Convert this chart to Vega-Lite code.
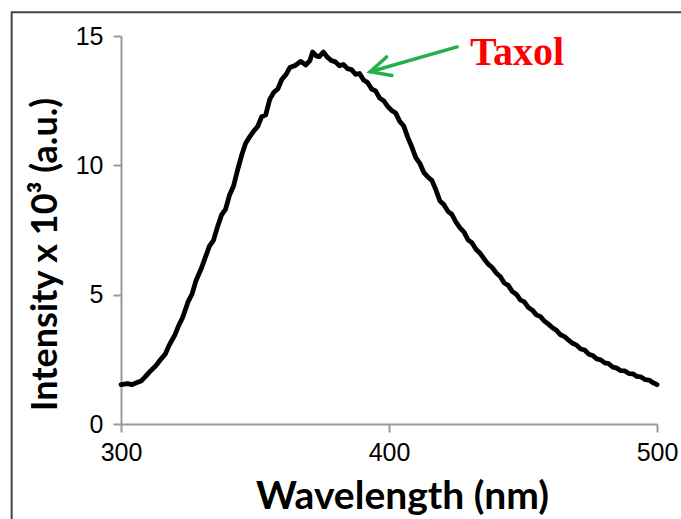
{
  "$schema": "https://vega.github.io/schema/vega-lite/v6.json",
  "width": 536,
  "height": 388,
  "autosize": {"type": "none"},
  "padding": {"left": 121, "top": 36, "right": 24, "bottom": 95},
  "background": "white",
  "config": {"view": {"stroke": null}},
  "datasets": {
    "spectrum": [
      {"wavelength": 300, "intensity": 1.52},
      {"wavelength": 302.5, "intensity": 1.56},
      {"wavelength": 304, "intensity": 1.52},
      {"wavelength": 306, "intensity": 1.6},
      {"wavelength": 307.5, "intensity": 1.66},
      {"wavelength": 309, "intensity": 1.82},
      {"wavelength": 311, "intensity": 2.05},
      {"wavelength": 313, "intensity": 2.25},
      {"wavelength": 315, "intensity": 2.52},
      {"wavelength": 316.5, "intensity": 2.7},
      {"wavelength": 318, "intensity": 3.05},
      {"wavelength": 320, "intensity": 3.42},
      {"wavelength": 321.5, "intensity": 3.8},
      {"wavelength": 323, "intensity": 4.12},
      {"wavelength": 325, "intensity": 4.72},
      {"wavelength": 326.5, "intensity": 5.02},
      {"wavelength": 328, "intensity": 5.55},
      {"wavelength": 330, "intensity": 6.02},
      {"wavelength": 331.5, "intensity": 6.45},
      {"wavelength": 333, "intensity": 6.88},
      {"wavelength": 334.5, "intensity": 7.1},
      {"wavelength": 336, "intensity": 7.62},
      {"wavelength": 337.5, "intensity": 8.08},
      {"wavelength": 339, "intensity": 8.3},
      {"wavelength": 340.5, "intensity": 8.85},
      {"wavelength": 342, "intensity": 9.2},
      {"wavelength": 343.5, "intensity": 9.82},
      {"wavelength": 345, "intensity": 10.38},
      {"wavelength": 346.5, "intensity": 10.85},
      {"wavelength": 348, "intensity": 11.1},
      {"wavelength": 349.5, "intensity": 11.32},
      {"wavelength": 351, "intensity": 11.5},
      {"wavelength": 352.5, "intensity": 11.88},
      {"wavelength": 354, "intensity": 11.95},
      {"wavelength": 355.5, "intensity": 12.55},
      {"wavelength": 357, "intensity": 12.82},
      {"wavelength": 358.5, "intensity": 12.95},
      {"wavelength": 360, "intensity": 13.32},
      {"wavelength": 361.5, "intensity": 13.5},
      {"wavelength": 363, "intensity": 13.78},
      {"wavelength": 365, "intensity": 13.86},
      {"wavelength": 367, "intensity": 14.02},
      {"wavelength": 369, "intensity": 13.88},
      {"wavelength": 370.5, "intensity": 14.05},
      {"wavelength": 371.5, "intensity": 14.38},
      {"wavelength": 373, "intensity": 14.22},
      {"wavelength": 374, "intensity": 14.2},
      {"wavelength": 375.5, "intensity": 14.38},
      {"wavelength": 377, "intensity": 14.18},
      {"wavelength": 378.5, "intensity": 14.05},
      {"wavelength": 380, "intensity": 14.0},
      {"wavelength": 381.5, "intensity": 13.85},
      {"wavelength": 383, "intensity": 13.9},
      {"wavelength": 384.5, "intensity": 13.74},
      {"wavelength": 386, "intensity": 13.7},
      {"wavelength": 387.5, "intensity": 13.52},
      {"wavelength": 389, "intensity": 13.55},
      {"wavelength": 390.5, "intensity": 13.3},
      {"wavelength": 392, "intensity": 13.2},
      {"wavelength": 393.5, "intensity": 12.95},
      {"wavelength": 395, "intensity": 12.88},
      {"wavelength": 396.5, "intensity": 12.6},
      {"wavelength": 398, "intensity": 12.5},
      {"wavelength": 399.5, "intensity": 12.28},
      {"wavelength": 401, "intensity": 12.12},
      {"wavelength": 402.5, "intensity": 12.02},
      {"wavelength": 404, "intensity": 11.7},
      {"wavelength": 405.5, "intensity": 11.52},
      {"wavelength": 407, "intensity": 11.08},
      {"wavelength": 408.5, "intensity": 10.72},
      {"wavelength": 410, "intensity": 10.3},
      {"wavelength": 411.5, "intensity": 10.08},
      {"wavelength": 413, "intensity": 9.72},
      {"wavelength": 414.5, "intensity": 9.55},
      {"wavelength": 416, "intensity": 9.42},
      {"wavelength": 417.5, "intensity": 9.05},
      {"wavelength": 419, "intensity": 8.62},
      {"wavelength": 420.5, "intensity": 8.48},
      {"wavelength": 422, "intensity": 8.22},
      {"wavelength": 423.5, "intensity": 8.1},
      {"wavelength": 425, "intensity": 7.8},
      {"wavelength": 426.5, "intensity": 7.58},
      {"wavelength": 428, "intensity": 7.42},
      {"wavelength": 429.5, "intensity": 7.12},
      {"wavelength": 431, "intensity": 7.0},
      {"wavelength": 432.5, "intensity": 6.75},
      {"wavelength": 434, "intensity": 6.6},
      {"wavelength": 435.5, "intensity": 6.38},
      {"wavelength": 437, "intensity": 6.18},
      {"wavelength": 438.5, "intensity": 6.05},
      {"wavelength": 440, "intensity": 5.84},
      {"wavelength": 441.5, "intensity": 5.7},
      {"wavelength": 443, "intensity": 5.45},
      {"wavelength": 444.5, "intensity": 5.36},
      {"wavelength": 446, "intensity": 5.12},
      {"wavelength": 447.5, "intensity": 5.02},
      {"wavelength": 449, "intensity": 4.8},
      {"wavelength": 450.5, "intensity": 4.72},
      {"wavelength": 452, "intensity": 4.5},
      {"wavelength": 453.5, "intensity": 4.4},
      {"wavelength": 455, "intensity": 4.22},
      {"wavelength": 456.5, "intensity": 4.15},
      {"wavelength": 458, "intensity": 3.98},
      {"wavelength": 459.5, "intensity": 3.86},
      {"wavelength": 461, "intensity": 3.72},
      {"wavelength": 462.5, "intensity": 3.62},
      {"wavelength": 464, "intensity": 3.45},
      {"wavelength": 465.5, "intensity": 3.38},
      {"wavelength": 467, "intensity": 3.24},
      {"wavelength": 468.5, "intensity": 3.12},
      {"wavelength": 470, "intensity": 3.05},
      {"wavelength": 471.5, "intensity": 2.9},
      {"wavelength": 473, "intensity": 2.86},
      {"wavelength": 474.5, "intensity": 2.7},
      {"wavelength": 476, "intensity": 2.65},
      {"wavelength": 477.5, "intensity": 2.52},
      {"wavelength": 479, "intensity": 2.48},
      {"wavelength": 480.5, "intensity": 2.36},
      {"wavelength": 482, "intensity": 2.33},
      {"wavelength": 483.5, "intensity": 2.2},
      {"wavelength": 485, "intensity": 2.16},
      {"wavelength": 486.5, "intensity": 2.06},
      {"wavelength": 488, "intensity": 2.05},
      {"wavelength": 489.5, "intensity": 1.95},
      {"wavelength": 491, "intensity": 1.94},
      {"wavelength": 492.5, "intensity": 1.84},
      {"wavelength": 494, "intensity": 1.82},
      {"wavelength": 495.5, "intensity": 1.72},
      {"wavelength": 497, "intensity": 1.7},
      {"wavelength": 498.5, "intensity": 1.6},
      {"wavelength": 500, "intensity": 1.52}
    ],
    "frame": [
      {"x": 259.2, "x2": 560, "y": 15.92, "y2": 15.92},
      {"x": 259.2, "x2": 259.2, "y": 15.95, "y2": -6}
    ],
    "arrow": [{"x": 393.0, "y": 13.62, "x2": 425.4, "y2": 14.58}],
    "label": [{"x": 430.2, "y": 13.88, "text": "Taxol"}]
  },
  "layer": [
    {
      "data": {"name": "frame"},
      "mark": {"type": "rule", "stroke": "#444444", "strokeWidth": 2},
      "encoding": {
        "x": {"field": "x", "type": "quantitative", "scale": {"domain": [300, 500], "nice": false, "zero": false}},
        "x2": {"field": "x2"},
        "y": {"field": "y", "type": "quantitative", "scale": {"domain": [0, 15], "nice": false}},
        "y2": {"field": "y2"}
      }
    },
    {
      "data": {"name": "spectrum"},
      "mark": {"type": "line", "color": "black", "strokeWidth": 4.8, "strokeJoin": "round", "strokeCap": "round"},
      "encoding": {
        "x": {
          "field": "wavelength",
          "type": "quantitative",
          "scale": {"domain": [300, 500], "nice": false, "zero": false},
          "axis": {
            "title": "Wavelength (nm)",
            "values": [300, 400, 500],
            "grid": false,
            "domainColor": "#999999",
            "domainWidth": 2,
            "tickColor": "#999999",
            "tickWidth": 2,
            "tickSize": 8,
            "labelPadding": 8,
            "labelFont": "Liberation Sans",
            "labelFontSize": 25,
            "labelColor": "black",
            "labelFlush": false,
            "titleFont": "Lato",
            "titleFontWeight": "bold",
            "titleFontSize": 39,
            "titleColor": "black",
            "titlePadding": 12,
            "titleX": 281
          }
        },
        "y": {
          "field": "intensity",
          "type": "quantitative",
          "scale": {"domain": [0, 15], "nice": false},
          "axis": {
            "title": "Intensity x 10³ (a.u.)",
            "values": [0, 5, 10, 15],
            "grid": false,
            "domainColor": "#999999",
            "domainWidth": 2,
            "tickColor": "#999999",
            "tickWidth": 2,
            "tickSize": 8,
            "labelPadding": 10,
            "labelFont": "Liberation Sans",
            "labelFontSize": 25,
            "labelColor": "black",
            "labelFlush": false,
            "titleFont": "Lato",
            "titleFontWeight": "bold",
            "titleFontSize": 36,
            "titleColor": "black",
            "titlePadding": 11,
            "titleY": 218
          }
        }
      }
    },
    {
      "data": {"name": "arrow"},
      "mark": {"type": "rule", "color": "#22b04c", "strokeWidth": 3.5, "strokeCap": "round"},
      "encoding": {
        "x": {"field": "x", "type": "quantitative"},
        "y": {"field": "y", "type": "quantitative"},
        "x2": {"field": "x2"},
        "y2": {"field": "y2"}
      }
    },
    {
      "data": {"name": "arrow"},
      "mark": {"type": "point", "shape": "M 1 -0.49 L 0 0 L 1 0.49", "filled": false, "stroke": "#22b04c", "strokeWidth": 3.5, "strokeCap": "round", "strokeJoin": "miter", "size": 1560, "angle": 344, "opacity": 1},
      "encoding": {
        "x": {"field": "x", "type": "quantitative"},
        "y": {"field": "y", "type": "quantitative"}
      }
    },
    {
      "data": {"name": "label"},
      "mark": {"type": "text", "align": "left", "baseline": "alphabetic", "font": "Liberation Serif", "fontWeight": "bold", "fontSize": 40, "color": "#ff0000"},
      "encoding": {
        "x": {"field": "x", "type": "quantitative"},
        "y": {"field": "y", "type": "quantitative"},
        "text": {"field": "text"}
      }
    }
  ]
}
